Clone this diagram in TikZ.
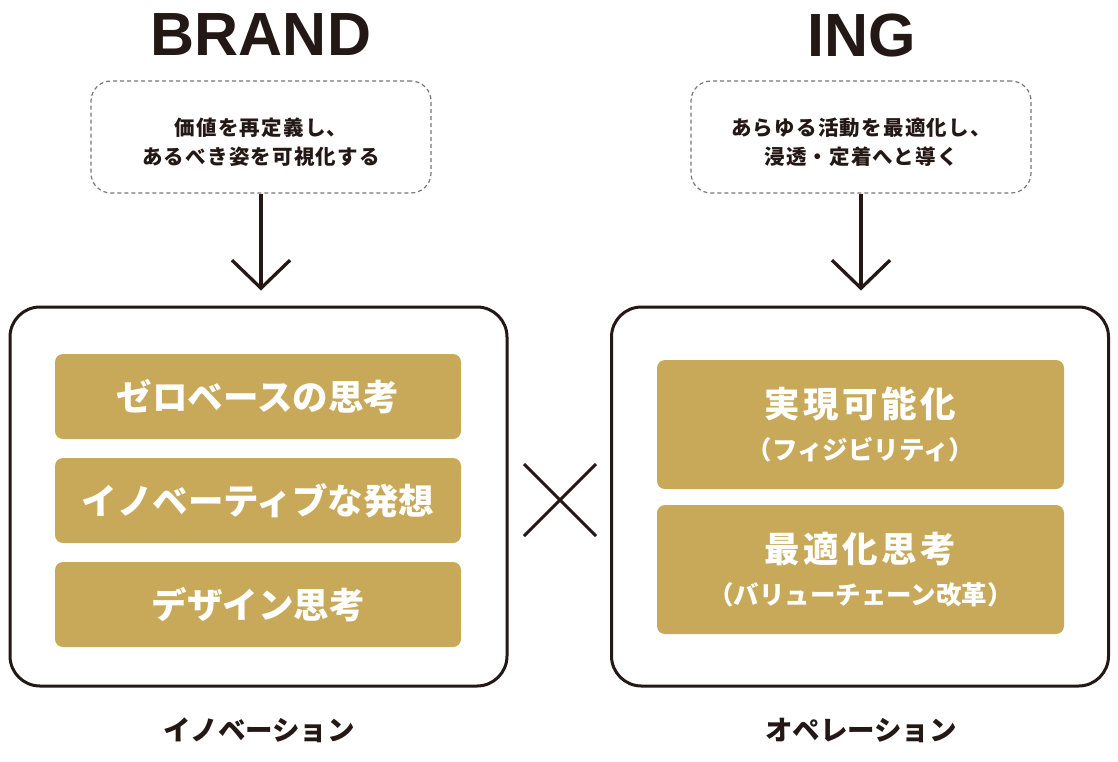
\documentclass[tikz,border=0pt]{standalone}
\usepackage{fontspec}
\setmainfont{Liberation Sans}
\newfontfamily\jp{Noto Sans CJK JP}
\newfontfamily\jpsp[LetterSpace=10]{Noto Sans CJK JP}
\newfontfamily\jpds[LetterSpace=6]{Noto Sans CJK JP}
\usetikzlibrary{arrows.meta}
\definecolor{ink}{HTML}{231815}
\definecolor{gold}{HTML}{C8A95A}
\definecolor{dashgray}{HTML}{777777}
\tikzset{
  titletext/.style={font=\fontsize{61}{61}\selectfont\bfseries, text=ink, inner sep=0pt},
  dbox/.style={draw=dashgray, line width=1.2pt, dash pattern=on 4pt off 3pt, rounded corners=20pt,
     minimum width=340pt, minimum height=112pt},
  dtext/.style={align=center, text=ink, inner sep=0pt,
     font=\jpds\fontsize{20.5}{29}\selectfont\bfseries},
  bigbox/.style={draw=ink, line width=3pt, rounded corners=30pt, minimum width=497pt, minimum height=379pt},
  goldbox/.style={fill=gold, rounded corners=8pt, minimum width=406pt, text=white, align=center,
     font=\jp\fontsize{35.5}{40}\selectfont\bfseries},
  arr/.style={draw=ink, line width=3.3pt, -{Straight Barb[length=28pt, width=58pt, line width=3.3pt]}},
  bottomlabel/.style={font=\jp\fontsize{27.5}{30}\selectfont\bfseries, text=ink, inner sep=0pt},
  cross/.style={draw=ink, line width=3pt}
}
\begin{document}
\begin{tikzpicture}[x=1pt, y=-1pt]
\useasboundingbox (0,0) rectangle (1118,761);
% titles
\node[titletext] (brand) at (261,35) {BRAND};
\node[titletext] (ing) at (862,35) {ING};
% dashed boxes
\node[dbox] (d1) at (261,137) {};
\node[dtext] (t1) at ([yshift=-5pt]d1.center) {価値を再定義し、\\あるべき姿を可視化する};
\node[dbox] (d2) at (861,137) {};
\node[dtext] (t2) at ([yshift=-5pt]d2.center) {あらゆる活動を最適化し、\\浸透・定着へと導く};
% big boxes
\node[bigbox] (b1) at (258.5,496.5) {};
\node[bigbox] (b2) at (860,496.5) {};
% arrows
\draw[arr] (d1.south) -- ([yshift=15pt]b1.north -| d1.south);
\draw[arr] (d2.south) -- ([yshift=15pt]b2.north -| d2.south);
% gold boxes left
\node[goldbox, minimum height=85pt] (g1) at (258,396.5) {ゼロベースの思考};
\node[goldbox, minimum height=85pt] (g2) at (258,500.5) {イノベーティブな発想};
\node[goldbox, minimum height=85pt] (g3) at (258,604.5) {デザイン思考};
% gold boxes right
\node[goldbox, minimum height=129pt, minimum width=407pt] (g4) at (860.5,424.5)
  {{\jpsp\bfseries 実現可能化}\\[2pt]{\fontsize{25.5}{28}\selectfont（フィジビリティ）}};
\node[goldbox, minimum height=129pt, minimum width=407pt] (g5) at (860.5,569.5)
  {{\jpsp\bfseries 最適化思考}\\[2pt]{\fontsize{25.5}{28}\selectfont（バリューチェーン改革）}};
% cross
\coordinate (xa) at (524,464);
\coordinate (xb) at (596,536);
\coordinate (xc) at (524,536);
\coordinate (xd) at (596,464);
\draw[cross] (xa) -- (xb);
\draw[cross] (xc) -- (xd);
% bottom labels
\node[bottomlabel] (l1) at (259,730) {イノベーション};
\node[bottomlabel] (l2) at (861,730) {オペレーション};
\end{tikzpicture}
\end{document}
